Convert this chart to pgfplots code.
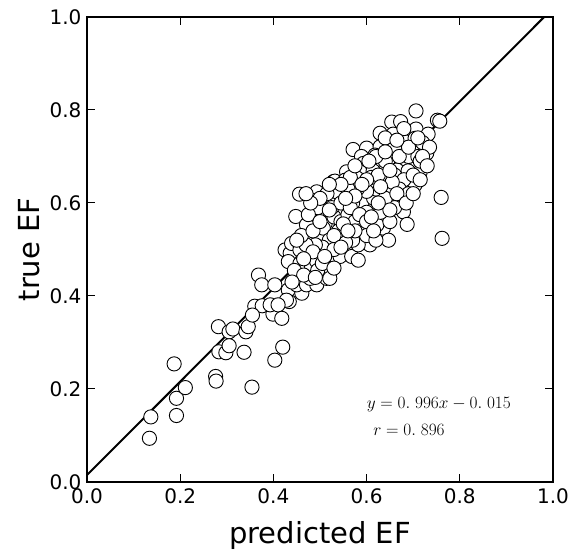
\documentclass[border=0pt]{standalone}
\usepackage[no-math]{fontspec}
\setmainfont{DejaVu Sans}
\usepackage{pgfplots}
\pgfplotsset{compat=1.18}
\usetikzlibrary{calc}
\begin{document}
\begin{tikzpicture}
\begin{axis}[name=ax,
  width=466pt, height=465pt, scale only axis,
  xmin=0, xmax=1, ymin=0, ymax=1,
  xtick={0,0.2,0.4,0.6,0.8,1.0}, ytick={0,0.2,0.4,0.6,0.8,1.0},
  minor tick num=0,
  tick align=inside, major tick length=8pt,
  tick style={black, line width=1pt},
  axis line style={black, line width=2pt},
  /pgf/number format/assume math mode=true,
  xticklabel={\pgfmathprintnumber[fixed,fixed zerofill,precision=1]{\tick}},
  yticklabel={\pgfmathprintnumber[fixed,fixed zerofill,precision=1]{\tick}},
  ticklabel style={font=\fontsize{20}{24}\selectfont},
  xticklabel style={yshift=-3pt},
  yticklabel style={xshift=-2pt},
  clip=true,
]
\addplot[only marks, mark=*, mark size=7.1pt, mark options={fill=white, draw=black, line width=0.9pt}] table {
x y
0.134 0.094
0.137 0.140
0.192 0.143
0.192 0.180
0.211 0.203
0.187 0.254
0.276 0.227
0.277 0.217
0.354 0.204
0.282 0.334
0.305 0.323
0.313 0.329
0.283 0.280
0.298 0.278
0.305 0.293
0.337 0.279
0.341 0.323
0.346 0.334
0.403 0.262
0.420 0.290
0.360 0.378
0.376 0.379
0.355 0.359
0.399 0.361
0.418 0.352
0.393 0.381
0.434 0.388
0.368 0.445
0.375 0.424
0.403 0.424
0.432 0.413
0.428 0.391
0.410 0.381
0.461 0.406
0.450 0.424
0.471 0.424
0.493 0.424
0.479 0.438
0.514 0.438
0.457 0.456
0.479 0.459
0.500 0.481
0.425 0.499
0.436 0.492
0.439 0.513
0.457 0.510
0.432 0.474
0.457 0.470
0.479 0.528
0.518 0.495
0.525 0.474
0.536 0.513
0.482 0.463
0.500 0.452
0.521 0.459
0.514 0.452
0.521 0.438
0.471 0.485
0.493 0.474
0.514 0.499
0.543 0.492
0.457 0.499
0.448 0.571
0.456 0.619
0.493 0.624
0.482 0.606
0.518 0.603
0.529 0.646
0.504 0.581
0.521 0.567
0.550 0.592
0.536 0.549
0.511 0.556
0.504 0.531
0.507 0.546
0.489 0.563
0.543 0.621
0.543 0.578
0.554 0.531
0.471 0.553
0.536 0.513
0.557 0.499
0.543 0.485
0.568 0.485
0.582 0.477
0.564 0.549
0.593 0.542
0.636 0.546
0.639 0.571
0.593 0.571
0.618 0.574
0.582 0.589
0.607 0.596
0.636 0.592
0.654 0.606
0.679 0.581
0.687 0.554
0.647 0.520
0.622 0.553
0.607 0.510
0.582 0.510
0.762 0.524
0.760 0.612
0.706 0.798
0.752 0.778
0.757 0.776
0.654 0.774
0.673 0.775
0.629 0.750
0.657 0.748
0.697 0.753
0.706 0.759
0.732 0.748
0.571 0.715
0.600 0.718
0.629 0.721
0.654 0.728
0.682 0.732
0.715 0.719
0.704 0.739
0.589 0.700
0.618 0.703
0.647 0.707
0.675 0.710
0.704 0.700
0.729 0.707
0.593 0.685
0.622 0.685
0.650 0.692
0.675 0.689
0.704 0.682
0.725 0.682
0.557 0.667
0.586 0.667
0.614 0.669
0.639 0.667
0.665 0.671
0.689 0.669
0.715 0.667
0.532 0.647
0.554 0.649
0.579 0.654
0.607 0.639
0.636 0.645
0.665 0.646
0.693 0.640
0.704 0.639
0.536 0.624
0.564 0.617
0.593 0.614
0.629 0.617
0.654 0.621
0.675 0.614
0.520 0.520
0.530 0.570
0.545 0.560
0.560 0.575
0.575 0.560
0.590 0.600
0.600 0.580
0.615 0.610
0.620 0.630
0.600 0.625
0.580 0.630
0.570 0.600
0.560 0.630
0.610 0.655
0.625 0.660
0.645 0.630
0.660 0.660
0.680 0.650
0.690 0.700
0.700 0.720
0.660 0.720
0.640 0.690
0.620 0.700
0.600 0.650
0.585 0.540
0.570 0.520
0.555 0.515
0.600 0.530
0.620 0.520
0.650 0.560
0.660 0.590
0.670 0.630
0.690 0.620
0.710 0.700
0.720 0.730
0.680 0.760
0.640 0.740
0.525 0.590
0.515 0.620
0.495 0.590
0.505 0.505
0.490 0.510
0.470 0.510
0.460 0.530
0.485 0.540
0.540 0.540
0.545 0.600
0.565 0.655
0.590 0.640
0.640 0.610
0.655 0.645
0.700 0.660
0.715 0.690
0.735 0.720
0.445 0.455
0.465 0.445
0.485 0.495
0.495 0.455
0.505 0.470
0.530 0.500
0.465 0.480
0.450 0.520
0.475 0.575
0.500 0.560
0.520 0.585
0.530 0.530
0.550 0.555
0.565 0.590
0.575 0.615
0.555 0.610
0.585 0.575
0.600 0.560
0.615 0.540
0.630 0.580
0.630 0.635
0.650 0.670
0.670 0.700
0.690 0.720
0.710 0.740
0.665 0.735
0.640 0.710
0.605 0.690
0.575 0.680
0.545 0.640
0.520 0.640
0.500 0.610
0.480 0.600
0.470 0.620
0.650 0.585
0.665 0.620
0.685 0.600
0.700 0.620
0.715 0.650
0.720 0.700
0.730 0.680
0.625 0.600
0.610 0.570
0.575 0.540
0.560 0.540
0.545 0.505
0.530 0.460
0.510 0.485
0.490 0.440
0.440 0.430
};
\addplot[black, line width=2pt] coordinates {(0,0.015) (0.981,1)};
\node[anchor=base west, font=\fontsize{19}{23}\selectfont, inner sep=0pt] at (axis cs:0.600,0.159) {$y=0.\;996x-0.\;015$};
\node[anchor=base west, font=\fontsize{19}{23}\selectfont, inner sep=0pt] at (axis cs:0.614,0.101) {$r=0.\;896$};
\end{axis}
\node[anchor=base, font=\fontsize{29}{34}\selectfont, inner sep=0pt] at ($(ax.south)+(0,-62pt)$) {predicted EF};
\node[anchor=base, rotate=90, font=\fontsize{29}{34}\selectfont, inner sep=0pt] at ($(ax.west)+(-47pt,0)$) {true EF};
\pgfresetboundingbox
\path ($(ax.south west)+(-87pt,-76pt)$) rectangle ($(ax.north east)+(24pt,17pt)$);
\end{tikzpicture}
\end{document}
